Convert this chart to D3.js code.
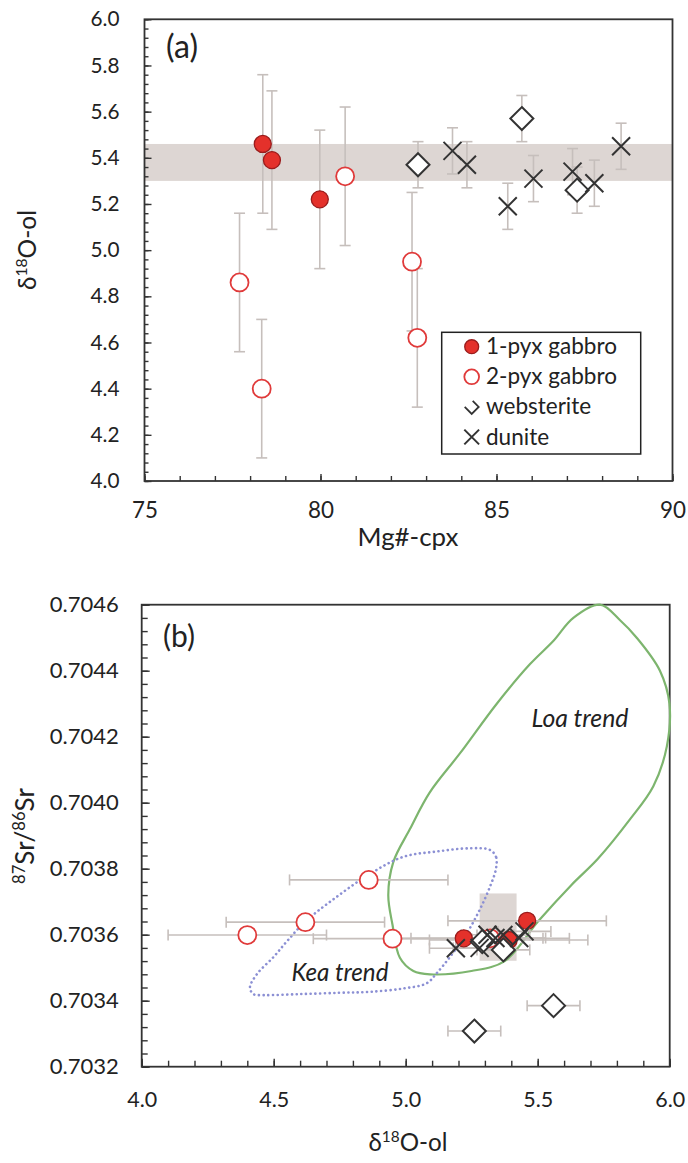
<!DOCTYPE html>
<html><head><meta charset="utf-8">
<script src="https://cdn.jsdelivr.net/npm/d3@7"></script>
<style>
body{margin:0;background:#fff}
svg{display:block}
text{font-family:Lato,"Open Sans","DejaVu Sans",sans-serif;fill:#222}
</style></head><body>
<svg id="c" width="688" height="1163"></svg>
<script>
// ---------- Panel (a) data: Mg#-cpx vs d18O-ol ----------
const aMg_1pyx = [78.36, 78.62, 79.98];
const aO_1pyx = [5.46, 5.39, 5.22];
const aErr_1pyx = [0.3, 0.3, 0.3];
const aMg_2pyx = [80.70, 77.70, 78.33, 82.60, 82.75];
const aO_2pyx = [5.32, 4.86, 4.40, 4.95, 4.62];
const aErr_2pyx = [0.3, 0.3, 0.3, 0.3, 0.3];
const aMg_web = [82.77, 85.72, 87.29];
const aO_web = [5.37, 5.57, 5.26];
const aErr_web = [0.1, 0.1, 0.1];
const aMg_dun = [83.75, 84.16, 85.32, 86.05, 87.16, 87.78, 88.54];
const aO_dun = [5.43, 5.37, 5.19, 5.31, 5.34, 5.29, 5.45];
const aErr_dun = [0.1, 0.1, 0.1, 0.1, 0.1, 0.1, 0.1];
const aBand = [5.30, 5.46];
const aXTicks = [75, 80, 85, 90];
const aYTicks = [4.0, 4.2, 4.4, 4.6, 4.8, 5.0, 5.2, 5.4, 5.6, 5.8, 6.0];

// ---------- Panel (b) data: d18O-ol vs 87Sr/86Sr ----------
const bO_1pyx = [5.22, 5.39, 5.46];
const bSr_1pyx = [0.703589, 0.703584, 0.703642];
const bErr_1pyx = [0.3, 0.3, 0.3];
const bO_2pyx = [4.40, 4.62, 4.86, 4.95, 5.32];
const bSr_2pyx = [0.703599, 0.703638, 0.703766, 0.703588, 0.703589];
const bErr_2pyx = [0.3, 0.3, 0.3, 0.3, 0.3];
const bO_web = [5.29, 5.37, 5.56, 5.26];
const bSr_web = [0.703579, 0.703554, 0.703385, 0.703308];
const bErr_web = [0.1, 0.1, 0.1, 0.1];
const bO_dun = [5.19, 5.28, 5.31, 5.34, 5.37, 5.43, 5.45];
const bSr_dun = [0.703559, 0.703560, 0.703600, 0.703590, 0.703599, 0.703590, 0.703610];
const bErr_dun = [0.1, 0.1, 0.1, 0.1, 0.1, 0.1, 0.1];
const bBoxO = [5.28, 5.42];
const bBoxSr = [0.703521, 0.703725];
const loaO  = [5.736,5.812,5.875,5.963,5.999,5.989,5.938,5.850,5.728,5.627,5.501,5.375,5.249,5.092,5.029,4.978,4.950,4.934,4.953,5.016,5.090,5.206,5.345,5.471,5.559,5.635];
const loaSr = [0.70460,0.704553,0.70450,0.70440,0.70430,0.70417,0.70405,0.70395,0.70383,0.70375,0.70364,0.70352,0.70349,0.70348,0.70349,0.70353,0.70363,0.70372,0.70382,0.70392,0.70403,0.70415,0.70430,0.70442,0.70449,0.70456];
const keaO  = [5.342,5.342,5.319,5.244,5.117,4.991,4.866,4.739,4.620,4.550,4.500,4.436,4.410,4.423,4.461,4.600,4.750,4.866,4.991,5.080,5.117,5.168,5.231,5.280,5.319];
const keaSr = [0.70380,0.703836,0.703857,0.703862,0.703852,0.703836,0.703785,0.703715,0.70364,0.70358,0.703533,0.70348,0.70344,0.70342,0.703417,0.70342,0.703424,0.703427,0.703437,0.703453,0.703483,0.703533,0.703604,0.703675,0.703745];
const bXTicks = [4.0, 4.5, 5.0, 5.5, 6.0];
const bYTicks = [0.7032, 0.7034, 0.7036, 0.7038, 0.7040, 0.7042, 0.7044, 0.7046];

const legendLabels = ["1-pyx gabbro", "2-pyx gabbro", "websterite", "dunite"];

// ---------- styles ----------
const C = {axis:"#333", err:"#c6bfbc", band:"#ddd6d3", red:"#e4312b", redStroke:"#9a1c1c", openRed:"#e03a3a", black:"#333", loa:"#7db56e", kea:"#8c90d4"};
const svg = d3.select("#c");
const zip = (a,b,c) => a.map((v,i)=>({x:v,y:b[i],e:c?c[i]:0}));

// scale a text element (and its tspans) so its rendered width equals target
function fitText(t, target){
  const w = t.node().getComputedTextLength();
  if(!w) return 1;
  const k = target / w;
  t.attr("font-size", parseFloat(t.attr("font-size"))*k);
  t.selectAll("tspan").each(function(){
    const s = d3.select(this);
    if(s.attr("font-size")) s.attr("font-size", parseFloat(s.attr("font-size"))*k);
    if(s.attr("dy")) s.attr("dy", parseFloat(s.attr("dy"))*k);
  });
  return k;
}
function fitAxisText(g, sample, target){
  let node=null;
  g.selectAll("text").each(function(){ if(this.textContent===sample) node=this; });
  if(!node) return;
  const k = target / node.getComputedTextLength();
  g.selectAll("text").each(function(){ const s=d3.select(this); s.attr("font-size", parseFloat(s.attr("font-size"))*k); });
}

function marker(g, type, x, y, scale=1){
  if(type==="filled") return g.append("circle").attr("cx",x).attr("cy",y).attr("r",8.5*scale).attr("fill",C.red).attr("stroke",C.redStroke).attr("stroke-width",1.3);
  if(type==="open") return g.append("circle").attr("cx",x).attr("cy",y).attr("r",9*scale).attr("fill","#fff").attr("stroke",C.openRed).attr("stroke-width",1.8);
  if(type==="diamond"){const s=11.5*scale; return g.append("path").attr("d",`M${x},${y-s}L${x+s},${y}L${x},${y+s}L${x-s},${y}Z`).attr("fill","#fff").attr("stroke",C.black).attr("stroke-width",2);}
  if(type==="cross"){const s=9*scale; return g.append("path").attr("d",`M${x-s},${y-s}L${x+s},${y+s}M${x-s},${y+s}L${x+s},${y-s}`).attr("fill","none").attr("stroke",C.black).attr("stroke-width",2);}
}

function styleAxis(sel, fs){
  sel.select(".domain").remove();
  sel.selectAll("line").attr("stroke",C.axis).attr("stroke-width",1.4);
  sel.selectAll("text").attr("font-size",fs).attr("fill","#222").style("font-family",'Lato,"Open Sans",sans-serif');
  return sel;
}

function superTitle(g, parts, attrs){
  const t = g.append("text").attr("font-size",22);
  for(const k in attrs) t.attr(k, attrs[k]);
  parts.forEach(p=>{
    const ts = t.append("tspan").text(p.t);
    if(p.sup){ ts.attr("font-size",14).attr("dy",-8); }
    else if(p.after){ ts.attr("dy",8); }
  });
  return t;
}

// =================== PANEL A ===================
const ax = d3.scaleLinear().domain([75,90]).range([144.5,672.5]);
const ay = d3.scaleLinear().domain([4,6]).range([481,19.3]);
const gA = svg.append("g");

gA.append("rect").attr("x",ax(75)).attr("width",ax(90)-ax(75))
  .attr("y",ay(aBand[1])).attr("height",ay(aBand[0])-ay(aBand[1])).attr("fill",C.band);

const aYMinor = d3.range(0,51).map(i=>4+i*0.04);
const aXMinor = d3.range(75,91,1);
styleAxis(gA.append("g").attr("transform",`translate(${ax(75)},0)`).call(d3.axisLeft(ay).tickValues(aYMinor).tickSize(-4).tickFormat("")),20);
styleAxis(gA.append("g").attr("transform",`translate(0,${ay(4)})`).call(d3.axisBottom(ax).tickValues(aXMinor).tickSize(-5).tickFormat("")),20);
const aYAx = styleAxis(gA.append("g").attr("transform",`translate(${ax(75)},0)`).call(d3.axisLeft(ay).tickValues(aYTicks).tickSizeInner(-7).tickSizeOuter(0).tickPadding(25).tickFormat(d3.format(".1f"))),21);
const aXAx = styleAxis(gA.append("g").attr("transform",`translate(0,${ay(4)})`).call(d3.axisBottom(ax).tickValues(aXTicks).tickSizeInner(-7).tickSizeOuter(0).tickPadding(21).tickFormat(d3.format("d"))),21);
fitAxisText(aYAx, "4.0", 29);
fitAxisText(aXAx, "80", 26);

gA.append("rect").attr("x",ax(75)).attr("y",ay(6)).attr("width",ax(90)-ax(75)).attr("height",ay(4)-ay(6))
  .attr("fill","none").attr("stroke",C.axis).attr("stroke-width",1.8);

function vErr(g, pts){
  pts.forEach(p=>{
    const x=ax(p.x), y1=ay(p.y-p.e), y2=ay(p.y+p.e);
    g.append("line").attr("x1",x).attr("x2",x).attr("y1",y1).attr("y2",y2).attr("stroke",C.err).attr("stroke-width",1.6);
    [y1,y2].forEach(yy=>g.append("line").attr("x1",x-5.5).attr("x2",x+5.5).attr("y1",yy).attr("y2",yy).attr("stroke",C.err).attr("stroke-width",1.6));
  });
}
const aSeries = [
  {pts:zip(aMg_1pyx,aO_1pyx,aErr_1pyx), type:"filled"},
  {pts:zip(aMg_2pyx,aO_2pyx,aErr_2pyx), type:"open"},
  {pts:zip(aMg_web,aO_web,aErr_web), type:"diamond"},
  {pts:zip(aMg_dun,aO_dun,aErr_dun), type:"cross"}
];
aSeries.forEach(s=>vErr(gA, s.pts));
aSeries.forEach(s=>s.pts.forEach(p=>marker(gA, s.type, ax(p.x), ay(p.y))));

fitText(gA.append("text").attr("x",166).attr("y",58).attr("font-size",24).text("(a)"), 32);

// axis titles
fitText(gA.append("text").attr("x",408).attr("y",546).attr("text-anchor","middle").attr("font-size",24).text("Mg#-cpx"), 101);
fitText(superTitle(gA,[{t:"δ"},{t:"18",sup:true},{t:"O-ol",after:true}],{"text-anchor":"middle","transform":"translate(36,250) rotate(-90)"}), 80);

// legend
const lg = gA.append("g");
lg.append("rect").attr("x",441.7).attr("y",332.3).attr("width",199).attr("height",121.7).attr("fill","#fff").attr("stroke","#222").attr("stroke-width",1.5);
const lgTypes = ["filled","open","diamond","cross"];
let lgK = null;
legendLabels.forEach((lab,i)=>{
  const yy = 346.7 + i*30.1;
  if(lgTypes[i]==="diamond"){
    const s=7; const x=471.7;
    lg.append("path").attr("d",`M${x-s},${yy}L${x},${yy+s}L${x+s},${yy}L${x+1},${yy-s+1}`).attr("fill","none").attr("stroke",C.black).attr("stroke-width",1.8);
  } else marker(lg, lgTypes[i], 471.7, yy, 0.82);
  const t = lg.append("text").attr("x",486).attr("y",yy+7.5).attr("font-size",22).text(lab);
  if(i===0) lgK = fitText(t, 131); else t.attr("font-size", 22*lgK);
});

// =================== PANEL B ===================
const bx = d3.scaleLinear().domain([4,6]).range([141.7,669.7]);
const by = d3.scaleLinear().domain([0.7032,0.7046]).range([1066.7,604.7]);
const gB = svg.append("g");

gB.append("rect").attr("x",bx(bBoxO[0])).attr("width",bx(bBoxO[1])-bx(bBoxO[0]))
  .attr("y",by(bBoxSr[1])).attr("height",by(bBoxSr[0])-by(bBoxSr[1])).attr("fill",C.band);

const bXMinor = d3.range(0,21).map(i=>4+i*0.1);
const bYMinor = d3.range(0,36).map(i=>0.7032+i*0.00004);
styleAxis(gB.append("g").attr("transform",`translate(${bx(4)},0)`).call(d3.axisLeft(by).tickValues(bYMinor).tickSize(-6).tickFormat("")),20);
styleAxis(gB.append("g").attr("transform",`translate(0,${by(0.7032)})`).call(d3.axisBottom(bx).tickValues(bXMinor).tickSize(-6).tickFormat("")),20);
const bYAx = styleAxis(gB.append("g").attr("transform",`translate(${bx(4)},0)`).call(d3.axisLeft(by).tickValues(bYTicks).tickSizeInner(-8).tickSizeOuter(0).tickPadding(23).tickFormat(d3.format(".4f"))),21);
const bXAx = styleAxis(gB.append("g").attr("transform",`translate(0,${by(0.7032)})`).call(d3.axisBottom(bx).tickValues(bXTicks).tickSizeInner(-8).tickSizeOuter(0).tickPadding(25).tickFormat(d3.format(".1f"))),21);
fitAxisText(bYAx, "0.7036", 69);
fitAxisText(bXAx, "4.0", 30);

gB.append("rect").attr("x",bx(4)).attr("y",by(0.7046)).attr("width",bx(6)-bx(4)).attr("height",by(0.7032)-by(0.7046))
  .attr("fill","none").attr("stroke",C.axis).attr("stroke-width",1.8);

// trend fields
const trendLine = d3.line().x(d=>bx(d[0])).y(d=>by(d[1])).curve(d3.curveCatmullRomClosed.alpha(0.5));
gB.append("path").attr("d",trendLine(loaO.map((v,i)=>[v,loaSr[i]]))).attr("fill","none").attr("stroke",C.loa).attr("stroke-width",2.2);
gB.append("path").attr("d",trendLine(keaO.map((v,i)=>[v,keaSr[i]]))).attr("fill","none").attr("stroke",C.kea).attr("stroke-width",2.6).attr("stroke-dasharray","0.1,4.6").attr("stroke-linecap","round");

fitText(gB.append("text").attr("x",580).attr("y",727).attr("text-anchor","middle").attr("font-size",21).attr("font-style","italic").text("Loa trend"), 97);
fitText(gB.append("text").attr("x",340).attr("y",981).attr("text-anchor","middle").attr("font-size",21).attr("font-style","italic").text("Kea trend"), 97);

function hErr(g, pts){
  pts.forEach(p=>{
    const y=by(p.y), x1=bx(p.x-p.e), x2=bx(p.x+p.e);
    g.append("line").attr("x1",x1).attr("x2",x2).attr("y1",y).attr("y2",y).attr("stroke",C.err).attr("stroke-width",1.6);
    [x1,x2].forEach(xx=>g.append("line").attr("x1",xx).attr("x2",xx).attr("y1",y-5.5).attr("y2",y+5.5).attr("stroke",C.err).attr("stroke-width",1.6));
  });
}
const bSeries = [
  {pts:zip(bO_2pyx,bSr_2pyx,bErr_2pyx), type:"open"},
  {pts:zip(bO_1pyx,bSr_1pyx,bErr_1pyx), type:"filled"},
  {pts:zip(bO_web,bSr_web,bErr_web), type:"diamond"},
  {pts:zip(bO_dun,bSr_dun,bErr_dun), type:"cross"}
];
bSeries.forEach(s=>hErr(gB, s.pts));
bSeries.forEach(s=>s.pts.forEach(p=>marker(gB, s.type, bx(p.x), by(p.y))));

fitText(gB.append("text").attr("x",163).attr("y",647).attr("font-size",24).text("(b)"), 32);
fitText(superTitle(gB,[{t:"δ"},{t:"18",sup:true},{t:"O-ol",after:true}],{"text-anchor":"middle","x":408,"y":1151}), 79);
fitText(superTitle(gB,[{t:"87",sup:true},{t:"Sr/",after:true},{t:"86",sup:true},{t:"Sr",after:true}],{"text-anchor":"middle","transform":"translate(34,836) rotate(-90)"}), 96);
</script></body></html>
